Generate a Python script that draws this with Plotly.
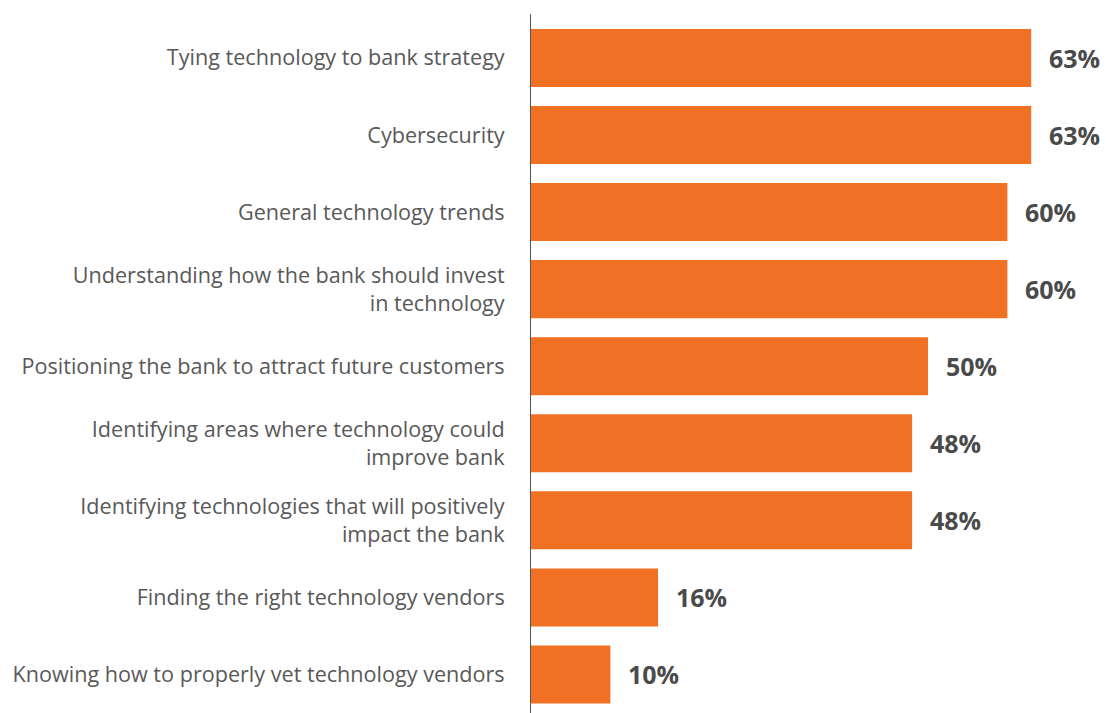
import plotly.graph_objects as go

categories = [
    "Tying technology to bank strategy",
    "Cybersecurity",
    "General technology trends",
    "Understanding how the bank should invest<br>in technology",
    "Positioning the bank to attract future customers",
    "Identifying areas where technology could<br>improve bank",
    "Identifying technologies that will positively<br>impact the bank",
    "Finding the right technology vendors",
    "Knowing how to properly vet technology vendors",
]
values = [63, 63, 60, 60, 50, 48, 48, 16, 10]
value_labels = [f"{v}%" for v in values]

BAR_COLOR = "#F07124"
TEXT_COLOR = "#595959"

fig = go.Figure(
    go.Bar(
        x=values,
        y=categories,
        orientation="h",
        marker=dict(color=BAR_COLOR, line=dict(width=0)),
        width=0.753,
        hoverinfo="skip",
    )
)

for cat, v, lab in zip(categories, values, value_labels):
    fig.add_annotation(
        x=v, y=cat, text=lab, showarrow=False,
        xanchor="left", yanchor="middle", xshift=16,
        font=dict(family="Open Sans", size=25, color="#4a4a4a", weight=700),
    )

fig.update_layout(
    width=1106, height=713,
    margin=dict(l=531, r=0, t=14, b=0),
    paper_bgcolor="white", plot_bgcolor="white",
    showlegend=False,
    font=dict(family="Open Sans", size=21.6, color=TEXT_COLOR),
    xaxis=dict(range=[0, 72.42], visible=False, fixedrange=True),
    yaxis=dict(
        type="category",
        range=[8.5, -0.57],
        showline=True, linecolor="#555555", linewidth=1,
        showgrid=False, zeroline=False, ticks="",
        ticklabelstandoff=21,
        tickfont=dict(family="Open Sans", size=21.6, color=TEXT_COLOR),
    ),
)

fig.write_html("out.html")
